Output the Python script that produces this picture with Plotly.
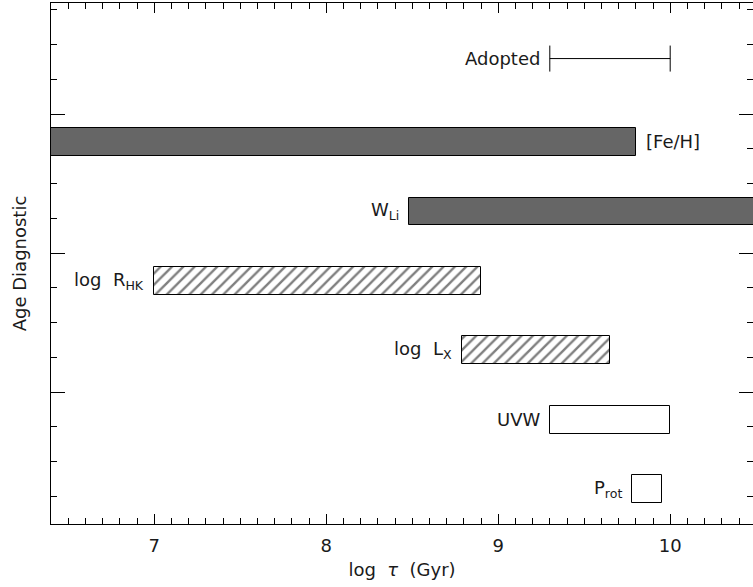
import plotly.graph_objects as go

# ---- data ----
diagnostics = ["[Fe/H]", "W<sub>Li</sub>", "log&nbsp; R<sub>HK</sub>", "log&nbsp; L<sub>X</sub>", "UVW", "P<sub>rot</sub>"]
row_pos = [11, 9, 7, 5, 3, 1]
age_lo = [6.4, 8.48, 7.0, 8.79, 9.30, 9.78]
age_hi = [9.8, 10.5, 8.9, 9.65, 10.0, 9.95]
styles = ["solid", "solid", "hatch", "hatch", "open", "open"]
label_side = ["right", "left", "left", "left", "left", "left"]

adopted_label = "Adopted"
adopted_pos = 13.4
adopted_lo = 9.3
adopted_hi = 10.0

x_ticks = [7, 8, 9, 10]
y_major_ticks = [3.8, 7.8, 11.8]

FONT = "DejaVu Sans"
INK = "#1a1a1a"

fig = go.Figure()

for name, y, lo, hi, st in zip(diagnostics, row_pos, age_lo, age_hi, styles):
    if st == "solid":
        marker = dict(color="#666666", line=dict(color="black", width=1))
    elif st == "hatch":
        marker = dict(color="white", line=dict(color="black", width=1),
                      pattern=dict(shape="/", fgcolor="black", bgcolor="white",
                                   size=8, solidity=0.3))
    else:
        marker = dict(color="white", line=dict(color="black", width=1))
    fig.add_trace(go.Bar(
        orientation="h", y=[y], x=[hi - lo], base=[lo], width=0.8,
        marker=marker, showlegend=False, hoverinfo="skip",
    ))

# adopted range as an error bar
fig.add_trace(go.Scatter(
    x=[(adopted_lo + adopted_hi) / 2], y=[adopted_pos], mode="markers",
    marker=dict(size=1, color="rgba(0,0,0,0)"),
    error_x=dict(type="data", array=[(adopted_hi - adopted_lo) / 2],
                 color="black", thickness=1, width=13),
    showlegend=False, hoverinfo="skip",
))

annotations = []
for name, y, lo, hi, side in zip(diagnostics, row_pos, age_lo, age_hi, label_side):
    if side == "left":
        annotations.append(dict(x=lo, y=y, text=name, xanchor="right", xshift=-8,
                                showarrow=False, font=dict(family=FONT, size=18, color=INK)))
    else:
        annotations.append(dict(x=hi, y=y, text=name, xanchor="left", xshift=8,
                                showarrow=False, font=dict(family=FONT, size=18, color=INK)))
annotations.append(dict(x=adopted_lo, y=adopted_pos, text=adopted_label, xanchor="right",
                        xshift=-8, showarrow=False, font=dict(family=FONT, size=18, color=INK)))

fig.update_layout(
    width=753, height=587,
    margin=dict(l=51, r=0, t=3, b=63),
    plot_bgcolor="white", paper_bgcolor="white",
    font=dict(family=FONT, size=18, color=INK),
    annotations=annotations,
    bargap=0,
)

fig.update_xaxes(
    range=[6.4, 10.4814], tickmode="array", tickvals=x_ticks,
    ticktext=[str(t) for t in x_ticks],
    ticks="inside", ticklen=10, tickcolor="black", tickwidth=1,
    minor=dict(dtick=0.1, tick0=0, ticks="inside", ticklen=6, tickcolor="black", tickwidth=1),
    showline=True, linecolor="black", linewidth=1, mirror="allticks",
    showgrid=False, zeroline=False, layer="below traces",
    ticklabelstandoff=5, automargin=False,
    title=dict(text="log&nbsp; <i>τ</i>&nbsp; (Gyr)", standoff=8, font=dict(family=FONT, size=18)),
)
fig.update_yaxes(
    range=[0, 15], tickmode="array", tickvals=y_major_ticks, showticklabels=False,
    ticks="inside", ticklen=14, tickcolor="black", tickwidth=1,
    minor=dict(dtick=1, tick0=0.8, ticks="inside", ticklen=6, tickcolor="black", tickwidth=1),
    showline=True, linecolor="black", linewidth=1, mirror="allticks",
    showgrid=False, zeroline=False, layer="below traces", automargin=False,
    title=dict(text="Age Diagnostic", standoff=18, font=dict(family=FONT, size=18)),
)

fig.write_html("out.html", config={"displayModeBar": False},
               post_script="document.body.style.margin='0px';")
